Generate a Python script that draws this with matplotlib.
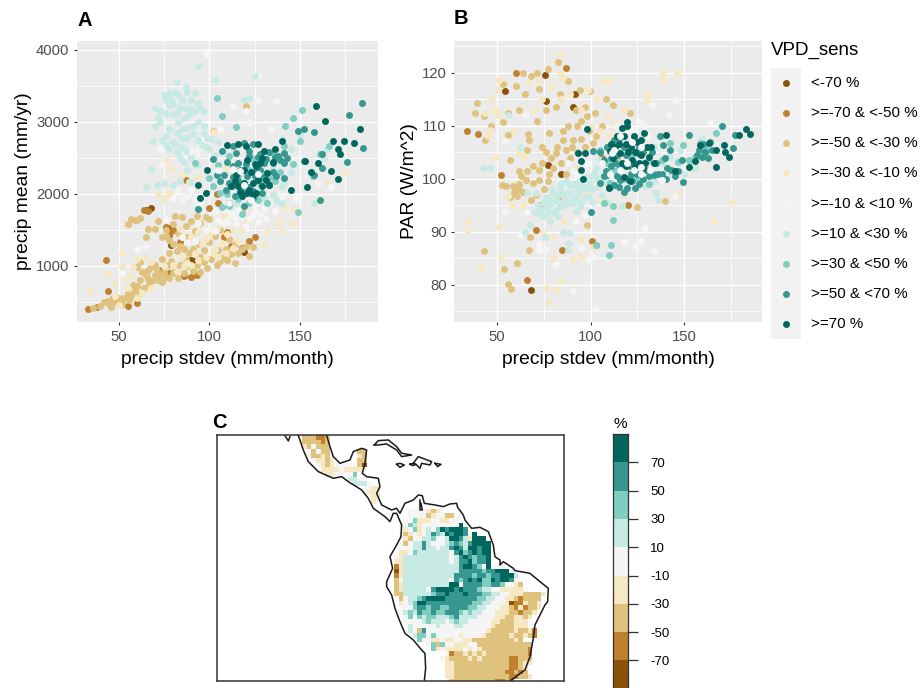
#!/usr/bin/env python3
"""Climate sensitivity panels: two scatters with a shared legend, plus the map."""

import matplotlib

matplotlib.use("Agg")
import matplotlib.pyplot as plt
from matplotlib.colors import BoundaryNorm, ListedColormap
import numpy as np

plt.rcParams["font.family"] = ["Liberation Sans", "DejaVu Sans"]

W, H = 921, 688

CLASS_COLORS = ["#8c510a", "#bf812d", "#dfc27d", "#f6e8c3", "#f5f5f5",
                "#c7eae5", "#80cdc1", "#35978f", "#01665e"]
LEGEND_LABELS = ["<-70 %", ">=-70 & <-50 %", ">=-50 & <-30 %", ">=-30 & <-10 %",
                 ">=-10 & <10 %", ">=10 & <30 %", ">=30 & <50 %", ">=50 & <70 %",
                 ">=70 %"]
CBAR_TICKS = [70, 50, 30, 10, -10, -30, -50, -70]
CBAR_EDGES = [-90, -70, -50, -30, -10, 10, 30, 50, 70, 90]

# panel A: (precip stdev, precip mean), one list per class
a_c1 = [(68, 1810), (65, 1780), (78, 1430), (77, 1530), (79, 1290), (90, 1090), (92, 1070), (119, 1200)]
a_c2 = [(33, 400), (38, 430), (44, 650), (55, 440), (60, 480), (43, 1090), (64, 1780), (66, 1770),
        (76, 1540), (80, 1500), (78, 1450), (84, 1330), (73, 950), (78, 900), (86, 860), (90, 850),
        (93, 870), (100, 1800), (105, 1880), (108, 1400), (112, 1280), (118, 1250), (122, 1350),
        (125, 1400), (87, 2200), (104, 2000), (110, 1470)]
a_c3 = [(36, 420), (40, 440), (42, 500), (44, 520), (45, 470), (46, 430), (48, 500), (50, 550),
        (53, 560), (55, 620), (57, 590), (59, 650), (60, 720), (62, 800), (63, 920), (65, 880),
        (64, 700), (67, 750), (69, 800), (70, 880), (72, 800), (74, 780), (76, 850), (78, 830),
        (80, 900), (83, 840), (86, 900), (88, 1000), (91, 930), (93, 1010), (95, 920), (97, 1060),
        (99, 970), (101, 1100), (104, 1010), (106, 1070), (108, 1130), (110, 1090), (112, 1160),
        (114, 1040), (116, 1180), (118, 1240), (120, 1280), (122, 1140), (124, 1270), (60, 1640),
        (55, 1580), (57, 1650), (59, 1640), (62, 1670), (66, 1510), (70, 1520), (76, 1420),
        (72, 1620), (78, 1360), (80, 1300), (82, 1210), (84, 1280), (86, 1230), (88, 1400),
        (92, 1480), (95, 1600), (98, 1680), (100, 1650), (90, 1620), (85, 1680), (80, 1580),
        (76, 1500), (78, 1180), (74, 1100), (70, 1020), (66, 950), (62, 1060), (60, 980),
        (65, 1400), (120, 3220), (102, 2870), (95, 1130), (105, 1220), (99, 2010), (120, 2020),
        (118, 1780), (124, 1920), (47, 560), (52, 470), (56, 530), (58, 730), (61, 610), (66, 820),
        (68, 980), (71, 940), (73, 880), (75, 920), (77, 1010), (79, 1070), (81, 960), (84, 1010),
        (87, 1090), (89, 1180), (91, 1240), (94, 1310), (97, 1220), (100, 1340), (103, 1410),
        (106, 1500), (109, 1230), (111, 1370), (114, 1300), (83, 1460), (87, 1560), (93, 1700),
        (81, 1700), (74, 1400)]
a_c4 = [(34, 650), (44, 890), (52, 1000), (52, 1180), (58, 990), (48, 580), (50, 460), (55, 700),
        (60, 560), (63, 630), (68, 700), (75, 1000), (80, 1010), (85, 1120), (88, 1040), (92, 1180),
        (96, 1300), (100, 1450), (103, 1230), (107, 1320), (110, 1450), (113, 1520), (118, 1500),
        (121, 1620), (126, 1650), (130, 1310), (132, 1480), (140, 1480), (138, 1600), (146, 1600),
        (146, 1785), (141, 1820), (78, 2010), (75, 1950), (72, 2000), (76, 2460), (79, 2350),
        (85, 2270), (89, 2170), (94, 2240), (102, 2860), (109, 2380), (166, 2156), (175, 2303),
        (48, 750), (53, 830), (57, 860), (60, 1100), (64, 1120), (68, 1060), (82, 930), (86, 1000),
        (90, 1020), (94, 1080), (98, 1130), (102, 1180), (105, 1130), (109, 1180), (113, 1250),
        (116, 1350), (104, 1520), (94, 1470), (98, 1370), (90, 1400), (84, 1520), (108, 1700)]
a_c5 = [(99, 3950), (127, 3640), (127, 3300), (137, 3290), (113, 3220), (120, 3150), (122, 3000),
        (134, 2900), (106, 2900), (73, 2620), (95, 2660), (93, 2570), (74, 2410), (80, 1950),
        (85, 1920), (90, 2050), (92, 1930), (95, 1880), (100, 1980), (103, 1760), (105, 1640),
        (108, 1600), (112, 1720), (115, 1580), (118, 1700), (122, 1650), (125, 1760), (128, 1720),
        (130, 1800), (133, 1880), (136, 1760), (125, 1850), (140, 1950), (145, 2080), (148, 1950),
        (94, 1600), (98, 1500), (103, 1480), (88, 1330), (76, 1650), (60, 1240), (52, 900),
        (65, 1280), (85, 1400), (92, 1350), (160, 2150), (167, 2100), (110, 1620), (114, 1660),
        (120, 1560), (124, 1690), (127, 1610), (131, 1670), (116, 1780), (109, 1780), (86, 2500),
        (90, 2600), (96, 2750), (83, 2050), (88, 1970)]
a_c6 = [(82, 3550), (87, 3480), (94, 3780), (103, 3580), (70, 3200), (73, 3000), (70, 2950),
        (72, 3050), (75, 3370), (78, 3400), (76, 3300), (80, 3250), (83, 3380), (85, 3300),
        (88, 3420), (90, 3300), (92, 3400), (94, 3270), (97, 3150), (80, 3100), (83, 3000),
        (86, 3050), (89, 3100), (92, 3150), (94, 3000), (97, 2950), (78, 2900), (76, 2800),
        (74, 2750), (69, 2740), (80, 2720), (82, 2850), (85, 2900), (88, 2920), (91, 2830),
        (94, 2750), (97, 2850), (99, 2780), (101, 2760), (105, 2720), (78, 2620), (81, 2700),
        (84, 2500), (87, 2600), (90, 2500), (93, 2400), (65, 2100), (68, 2350), (71, 2130),
        (75, 2150), (80, 2120), (84, 2180), (90, 2160), (125, 3640), (122, 3330), (119, 3300),
        (120, 2200), (128, 2100), (135, 2000), (140, 2100), (145, 2300), (135, 2350), (141, 2150),
        (150, 2820), (115, 1870), (125, 1950), (137, 1920), (140, 1880), (158, 1880), (163, 2500),
        (165, 2620), (140, 2760), (145, 2620), (100, 2620), (103, 2540), (88, 2340), (86, 2450),
        (77, 3350), (79, 3300), (81, 3420), (84, 3200), (87, 3200), (90, 3180), (95, 3200),
        (78, 3230), (73, 3150), (76, 3120), (82, 3130), (85, 2780), (88, 2780), (91, 2950),
        (96, 2680), (99, 2650), (76, 2680), (82, 2580), (85, 2650), (118, 1980), (130, 1950)]
a_c7 = [(104, 3330), (107, 3080), (115, 2930), (142, 2940), (146, 3050), (151, 3170), (149, 1750),
        (107, 1820), (111, 1830), (118, 1720), (132, 1870), (146, 2410), (150, 2730), (161, 2560),
        (166, 2660), (157, 2250), (122, 2340), (113, 2110), (106, 2010), (102, 2110), (100, 2220),
        (128, 2150), (131, 2290), (124, 2480), (135, 2570), (141, 2660), (120, 2060), (111, 2530),
        (92, 2430), (116, 2250), (126, 2230), (134, 2210), (110, 2000), (116, 1930), (127, 1920),
        (122, 1880), (136, 2180), (139, 2310), (105, 2400)]
a_c8 = [(184, 3265), (177, 3100), (185, 2640), (176, 2440), (158, 2860), (152, 2900), (149, 2870),
        (162, 2560), (158, 2270), (162, 2360), (161, 1910), (102, 2480), (107, 2595), (113, 2660),
        (119, 2710), (124, 2690), (127, 2510), (133, 2590), (141, 2570), (141, 2430), (138, 2530),
        (135, 2430), (141, 2220), (137, 2250), (106, 2180), (111, 2150), (116, 2180), (121, 2250),
        (117, 2340), (126, 2340), (130, 2430), (122, 2525), (113, 2390), (108, 2270), (124, 1950),
        (119, 1830), (94, 1790), (114, 1970), (119, 2015), (129, 2015), (133, 2130), (152, 2455),
        (109, 2050), (113, 2240), (118, 2110), (122, 2100), (125, 2250), (128, 2330), (131, 2490),
        (136, 2510), (139, 2470), (143, 2500), (116, 2430), (120, 2420), (104, 2270), (110, 2440),
        (115, 2570), (129, 2230), (135, 2300), (124, 2040), (128, 2560), (122, 2600)]
a_c9 = [(159, 3220), (164, 3010), (183, 2905), (168, 2730), (174, 2730), (180, 2710), (171, 2620),
        (172, 2550), (153, 2455), (160, 2430), (156, 2305), (167, 2320), (171, 2210), (154, 2095),
        (145, 2050), (140, 2730), (95, 1940), (98, 2015), (94, 2130), (99, 2330), (110, 2680),
        (116, 2700), (120, 2670), (127, 2690), (130, 2595), (136, 2620), (128, 2430), (135, 2450),
        (133, 2130), (126, 2385), (119, 2340), (115, 2270), (112, 2110), (119, 2155), (124, 2155),
        (129, 2110), (121, 2015), (126, 2015), (118, 1970), (111, 1880), (125, 2410), (132, 2295),
        (122, 2060), (116, 2110), (127, 2200), (121, 2470), (131, 2190), (117, 2030), (123, 2310),
        (129, 2500), (114, 2180), (124, 1990)]
# a few pale cells sit on top of the dark core
a_over = [(113, 2350), (117, 2320), (111, 1870), (123, 1920), (105, 2330), (119, 2120), (127, 2280)]

# panel B: (precip stdev, PAR), one list per class
b_c1 = [(68, 79), (90.5, 113.5), (91.5, 116), (84, 101), (77, 102.6), (76, 114.7), (75.6, 119.6), (54.5, 116.5)]
b_c2 = [(60, 120), (87, 121), (34, 109), (40, 108.5), (52, 100.8), (66, 81), (72.5, 95), (71, 90.4),
        (84.7, 86.5), (106, 104), (101, 88.2), (120, 95), (103, 87.5)]
b_c3 = [(43, 86.3), (53.6, 83), (55.6, 80.2), (57.6, 79.3), (60.7, 84.2), (67, 86.5), (67.6, 89.1),
        (60, 117.6), (53.4, 117.9), (64, 120), (71.6, 120), (77, 120.7), (82.5, 122), (68, 119.4),
        (72.5, 117), (65, 116), (56, 112.4), (61.6, 113), (39.5, 114.3), (38, 112.4), (43, 111.8),
        (56, 108.2), (66.7, 108.5), (53.4, 110.8), (71.6, 111), (76, 113), (81.6, 113.6), (88, 118.4),
        (83.4, 116), (94.3, 116.8), (99.7, 116.5), (97, 113.6), (102.5, 112.4), (108, 115), (112, 114),
        (121, 112.4), (98, 111.8), (88, 110), (92.5, 110), (78, 108.6), (85, 107.4), (90.6, 107.4),
        (97, 106), (101.5, 106.7), (76, 105), (81.6, 104.8), (87, 105.5), (74.3, 103), (80, 102),
        (72.5, 101.7), (61.6, 101.4), (57, 103.6), (66, 105.5), (52.5, 98.9), (55, 98.6), (58.6, 98.6),
        (61.6, 98), (65.3, 99.8), (69, 99.2), (60.7, 96.7), (68, 96), (72.5, 99.8), (77, 99.5),
        (98, 91.3), (125, 94.7), (140, 95.8), (109, 106), (114, 104), (83.4, 96.7), (67, 107.4),
        (47, 110), (43.5, 107.4), (87, 101), (62, 99), (64, 97.5), (57, 96.5), (59, 97.5), (63, 100.5),
        (66, 101.5), (69, 102.5), (74, 106), (79, 104), (84, 103), (89, 104), (93, 105), (95, 107.5),
        (99, 109), (103, 108), (106, 110), (92, 113), (95, 111), (90, 106), (85, 109), (82, 106),
        (78, 101), (75, 98), (71, 97)]
b_c4 = [(34.7, 92), (34.7, 90.3), (41.3, 83.3), (52, 85.3), (51, 91), (76.5, 79.4), (81.6, 79), (84, 80.8),
        (78, 76.8), (90.6, 84.7), (95, 85.5), (95, 88.6), (101, 87.2), (139, 120), (139, 118.7),
        (146.4, 120), (130.6, 116), (130, 114.6), (146, 97.4), (175.6, 95.7), (166, 92), (51, 118.7),
        (50, 116.8), (47, 115), (43.5, 112.4), (46.5, 109.3), (50.7, 112), (67, 118), (72.5, 118.7),
        (79, 117.4), (83.4, 120), (83.5, 123.6), (89, 116), (107, 118.5), (109.7, 118.5), (98.8, 116.8),
        (103.4, 115), (109, 111.8), (112.4, 110.5), (118, 113), (49.5, 104.2), (64.3, 104.2), (56, 96.7),
        (58, 95), (64, 94.8), (78, 92.3), (74.4, 89.7), (80, 89), (86, 92), (95, 96.7), (98.8, 97.3),
        (105, 96), (110.6, 95), (109, 99), (118, 97.3), (80, 85), (62, 105), (59, 109), (45, 108),
        (49, 113), (74, 115), (70, 113), (85, 119), (84, 115), (95, 113), (100, 110), (105, 109),
        (110, 108), (116, 110), (92, 102), (88, 99), (122, 105), (118, 103)]
b_c5 = [(103, 75.4), (90.6, 78.8), (101.5, 85.3), (99, 84.7), (81.6, 84), (72.5, 86.6), (76, 86.6),
        (89, 89.8), (95, 87), (118, 88), (124, 87.4), (127, 88.2), (134, 86.3), (129, 90.7), (145, 114.6),
        (142, 112), (133, 114), (164, 110.6), (65, 112), (54, 107.2), (54, 94), (62.5, 89.4), (66, 93.8),
        (72.5, 87.8), (97, 93.2), (92, 92), (96, 101.7), (90.6, 101.4), (100, 101), (118, 108.6),
        (122, 109.2), (129, 110), (126, 111), (145, 96.7), (120, 110.5), (124, 109), (130, 108),
        (114, 110), (93, 100.5), (88, 103), (98, 103)]
b_c6 = [(42.7, 102), (46.5, 102), (55.6, 112), (62.5, 106), (65, 90), (67.5, 91.3), (75.6, 89), (85, 90),
        (89, 89.7), (88.5, 87.9), (88, 86.5), (66, 97.3), (70.7, 97.3), (69.8, 93.8), (73.4, 94.2), (76, 94.8),
        (79, 95.4), (81.6, 96), (78, 93.5), (75.2, 92.9), (81.6, 94.2), (84.3, 94.8), (87, 96), (85, 97),
        (89.7, 97.3), (92.5, 98.2), (88.8, 98.9), (83.4, 98), (80, 97.3), (96, 98.5), (99.7, 99.2), (103.4, 100),
        (97, 100.4), (90.6, 95.4), (94.3, 94.8), (101.5, 95.7), (106, 97), (109, 95.7), (117, 94.8), (135, 97.3),
        (136, 96), (112.4, 98.6), (129, 98.6), (134, 99.5), (148, 105.5), (142.4, 104.2), (134, 106),
        (159.6, 107.7), (156, 102), (143, 101), (103, 102), (78, 96), (82, 97), (75, 95.5), (72, 93.5),
        (91, 96.5), (94, 97.5), (86, 95), (77, 94), (74, 93), (80, 93.5), (83, 95.5), (88, 97.5), (91, 99),
        (94, 99.5), (98, 98), (101, 98), (104, 98.5), (76, 96.5), (72, 95), (79, 98), (84, 99), (87, 99.5),
        (93, 96), (97, 96.5), (100, 100.5), (106, 100.5), (125, 100), (138, 103), (150, 101), (105, 103.5),
        (102, 101), (108, 99.5), (89, 95.5), (82.5, 93), (78.5, 92), (92, 94), (95, 95.5), (99, 96.5)]
b_c7 = [(103, 87.5), (111, 87.5), (110, 85.7), (112, 92.3), (107, 95.4), (112, 94.8), (105, 105.5), (109, 103),
        (112.4, 103.6), (121.5, 104.2), (130.6, 103.6), (134, 101), (138, 103.6), (142.4, 106.7), (147, 103.2),
        (149.6, 106.4), (152.4, 103.6), (156, 104.2), (160.5, 106), (167, 108.6), (162, 105.5), (158.7, 106.7),
        (110.6, 99.2), (115, 102), (118, 100), (126, 100), (131, 99), (113, 101.5), (123, 100.5), (128, 103)]
b_c8 = [(100.3, 93.7), (149.6, 99.4), (152.4, 108.3), (137, 108.1), (138.7, 106.3), (142.4, 105.5), (143, 101.7),
        (138, 101), (134, 100.8), (140.6, 100), (147, 101.4), (148.7, 103.6), (159.6, 104.2), (161.4, 105),
        (157, 104.5), (176, 105.8), (177, 108.3), (170.5, 110), (105, 99.2), (109, 100.8), (112.4, 98.9),
        (116, 99.8), (119.6, 98.2), (124, 98.2), (128, 100), (109, 106), (112.4, 107.4), (101.5, 105.2),
        (105, 105), (116, 102.3), (121.5, 101), (125, 104.8), (129.7, 101.7), (107, 103.6), (114, 100.5),
        (118, 97.5), (122, 99.5), (126, 99), (110, 98.5), (113, 103), (118, 106), (123, 103), (128, 105),
        (164, 107), (160, 106.5), (135, 103), (107, 100.5), (111, 102.5), (115, 98.5), (120, 100), (125, 101),
        (131, 100.5), (136, 101), (141, 102), (145, 100.5), (119, 104.5), (115, 107.5), (111, 104), (108, 101.5),
        (114, 104.5), (121, 102.5), (126, 106), (133, 105), (140, 104), (165, 105.5), (158, 105.5), (163, 104)]
b_c9 = [(183, 109.4), (185.4, 108.4), (179.6, 108.3), (171.4, 106.4), (174, 104.2), (172, 105), (167, 105.5),
        (167.3, 102.2), (155.6, 103.4), (152.4, 102.3), (158.7, 106.4), (163.3, 106.7), (140.6, 108.3),
        (98, 109.4), (93.4, 104.8), (97, 104.8), (95, 103.3), (95, 101.7), (96, 100), (117, 109.6),
        (119.7, 110), (119.7, 110.8), (115, 106.6), (110.6, 105.2), (116, 104.8), (122.4, 103.6), (121.5, 106),
        (128.8, 108.6), (127, 107.4), (132.4, 106), (131.5, 104.2), (134, 103), (126, 103), (109.7, 98.2),
        (118, 100.4), (145, 101.4), (113, 106), (118, 108), (124, 105), (129, 103), (123, 108), (127, 104.5),
        (119, 102.5), (112, 104), (120, 105), (125, 107), (130, 106), (117, 103), (114, 108), (121, 99.5),
        (128, 102), (124, 102.5), (119, 106.5), (111, 106.5)]
b_over = [(106, 103), (110.6, 101), (116, 101.7), (123, 101.7), (127, 102.3), (119.7, 103), (111.5, 104.8),
          (132, 101.7), (138, 99.8), (127, 106), (127, 101), (112.4, 105.5), (122, 107), (116, 108)]

# map cells, digit = class number, '.' = no data; rows run north to south
meso_grid = [
    "...333223",
    "...333323",
    "...435333",
    "....53533......33",
    "....533435.....43",
    ".....54434.....33",
    "......54345555531",
    ".......4444544445",
    "........4455557",
    "............56655",
    ".............56665",
    "................5544",
    "................5444",
    "..................44",
    "..................45",
]
south_grid = [
    "",
    "",
    "",
    ".....55554345",
    ".....555534553355",
    "....557444554455",
    "...55764555555559",
    "....45745657989998",
    "...53454568769899859",
    "...5435566755699864999",
    "...53566865556787689999",
    "...55566866566898699899",
    "...44576666666589789899",
    "..546666666666568987889",
    "..446666666666568897889",
    "..246666666666668998759555",
    "..1466666666666688888788999",
    "..24666666666668888788788 9996".replace(" ", ""),
    "..356666666666587898977989985",
    "..3466666666669958888778875543",
    "..34666665899998988876655444445",
    "..336666667889888988877665544433334",
    "...3566789999888888877665544323333",
    "...4567998888888888776655541224334",
    "...5557887887788887766555443242334",
    "...567687787788876766555444332334",
    "....575767766678666655554433443 4".replace(" ", ""),
    "....5555676665676655555443334 44".replace(" ", ""),
    ".....655555655566555555433334 44".replace(" ", ""),
    ".....653855555555555554333334334 2".replace(" ", ""),
    "......677575555545555433333433432",
    ".......755445 445544333333333 43".replace(" ", ""),
    ".........5737554445533333333333 3".replace(" ", ""),
    "..........745444454543333333333 2".replace(" ", ""),
    ".............5233434343333333332",
    "............5433334343333332233 3".replace(" ", ""),
    ".............4433333333333322 344".replace(" ", ""),
    ".............44333333333333 2234".replace(" ", ""),
    ".............44333333333332 2323".replace(" ", ""),
    ".............4433333333333 322334".replace(" ", ""),
    "..............3333333333 22 32".replace(" ", ""),
]

# coastlines, in map units
coast_pacific_x = [295, 310, 325, 355, 400, 425, 445, 485, 505, 520, 555, 570, 580, 590, 605, 603, 590, 570, 578, 560,
                   560, 575, 585, 600, 615, 640, 665, 675, 677, 673]
coast_pacific_y = [91, 135, 170, 200, 220, 215, 230, 255, 280, 310, 335, 350, 325, 325, 360, 395, 420, 455, 490, 530,
                   545, 570, 610, 650, 685, 705, 735, 745, 790, 828]
coast_atlantic_x = [380, 390, 400, 420, 450, 460, 485, 500, 495, 487, 500, 535, 540, 530, 545, 575, 590, 600, 615, 640,
                    655, 667, 673, 705, 730, 750, 770, 773, 790, 795, 815, 840, 865, 880, 885, 900, 900, 910, 940, 945,
                    990, 1020, 1045, 1043, 1035, 1005, 1000, 990, 975, 930]
coast_atlantic_y = [91, 125, 155, 175, 165, 140, 130, 135, 175, 205, 215, 220, 245, 265, 300, 315, 310, 325, 295, 285,
                    270, 272, 295, 300, 305, 297, 295, 307, 330, 345, 370, 367, 380, 420, 455, 465, 480, 470, 490, 497,
                    505, 530, 550, 590, 600, 660, 700, 755, 795, 828]
maracaibo_x = [660, 660, 667, 663]
maracaibo_y = [285, 315, 315, 295]
cuba_x = [523, 535, 565, 590, 605, 635, 605, 590, 560, 535, 523]
cuba_y = [120, 107, 105, 125, 145, 150, 155, 135, 117, 120, 120]
hispaniola_x = [640, 655, 695, 690, 665, 660, 650, 640]
hispaniola_y = [175, 155, 170, 180, 175, 190, 180, 175]
jamaica_x = [590, 600, 613, 600, 590]
jamaica_y = [178, 175, 180, 187, 178]
cayman_x = [630, 640, 648, 638, 630]
cayman_y = [178, 175, 178, 182, 178]
puerto_rico_x = [705, 723, 713, 705]
puerto_rico_y = [175, 178, 185, 175]
baja_x = [255, 265, 270]
baja_y = [92, 108, 95]


def px_axes(left, top, right, bottom, **kw):
    return fig.add_axes([left / W, 1 - bottom / H, (right - left) / W, (bottom - top) / H], **kw)


def gg_panel(ax, classes, over, xlim, ylim, xticks, xminor, yticks, yminor, xlabel, ylabel):
    ax.set_facecolor("#EBEBEB")
    for s in ax.spines.values():
        s.set_visible(False)
    ax.set_axisbelow(True)
    ax.set_xticks(xticks)
    ax.set_yticks(yticks)
    ax.set_xticks(xminor, minor=True)
    ax.set_yticks(yminor, minor=True)
    ax.grid(True, which="major", color="white", linewidth=1.0)
    ax.grid(True, which="minor", color="white", linewidth=0.55)
    ax.tick_params(which="minor", length=0)
    ax.tick_params(which="major", length=2.5, width=0.8, color="#333333",
                   labelcolor="#4D4D4D", labelsize=10.7, pad=3)
    for i in range(9):
        pts = np.array(classes[i])
        ax.scatter(pts[:, 0], pts[:, 1], s=25, color=CLASS_COLORS[i], linewidths=0, zorder=3)
    pts = np.array(over)
    ax.scatter(pts[:, 0], pts[:, 1], s=25, color=CLASS_COLORS[4], linewidths=0, zorder=3)
    ax.set_xlim(*xlim)
    ax.set_ylim(*ylim)
    ax.set_xlabel(xlabel, fontsize=13.9, labelpad=5, color="black")
    ax.set_ylabel(ylabel, fontsize=13.9, labelpad=3, color="black")


fig = plt.figure(figsize=(W / 100, H / 100), dpi=100)

ax_a = px_axes(77, 41, 378, 322)
gg_panel(ax_a, [a_c1, a_c2, a_c3, a_c4, a_c5, a_c6, a_c7, a_c8, a_c9], a_over,
         (27.1, 193), (222, 4125), [50, 100, 150], [75, 125, 175],
         [1000, 2000, 3000, 4000], [500, 1500, 2500, 3500],
         "precip stdev (mm/month)", "precip mean (mm/yr)")

ax_b = px_axes(454.4, 41, 761.5, 322)
gg_panel(ax_b, [b_c1, b_c2, b_c3, b_c4, b_c5, b_c6, b_c7, b_c8, b_c9], b_over,
         (27.2, 191.4), (73, 126), [50, 100, 150], [75, 125, 175],
         [80, 90, 100, 110, 120], [75, 85, 95, 105, 115, 125],
         "precip stdev (mm/month)", "PAR (W/m^2)")

fig.text(77 / W, 1 - 20 / H, "A", fontsize=14.5, fontweight="bold", va="center")
fig.text(454 / W, 1 - 19 / H, "B", fontsize=14.5, fontweight="bold", va="center")
fig.text(212 / W, 1 - 423 / H, "C", fontsize=14.5, fontweight="bold", va="center")

# legend of the scatter panels
fig.text(771 / W, 1 - 50 / H, "VPD_sens", fontsize=13.5, va="center")
ax_leg = px_axes(771, 68, 801, 339)
ax_leg.set_facecolor("#F2F2F2")
ax_leg.set_xticks([])
ax_leg.set_yticks([])
for s in ax_leg.spines.values():
    s.set_visible(False)
ax_leg.set_xlim(0, 1)
ax_leg.set_ylim(9, 0)
for i, (lab, col) in enumerate(zip(LEGEND_LABELS, CLASS_COLORS)):
    ax_leg.scatter([0.5], [i + 0.5], s=25, color=col, linewidths=0)
    fig.text(811 / W, 1 - (68 + (i + 0.5) * 271 / 9) / H, lab, fontsize=10.9, va="center", color="black")

# map panel
cmap = ListedColormap(CLASS_COLORS)
norm = BoundaryNorm(np.arange(0.5, 10.5), cmap.N)
ax_map = px_axes(217.3, 435.3, 564.3, 681)
ax_map.set_xticks([])
ax_map.set_yticks([])
for s in ax_map.spines.values():
    s.set_linewidth(1.1)
    s.set_color("#333333")


def draw_cells(rows, x0, y0, cell=13.8):
    ncol = max(len(r) for r in rows)
    arr = np.full((len(rows), ncol), np.nan)
    for j, row in enumerate(rows):
        for i, ch in enumerate(row):
            if ch.isdigit():
                arr[j, i] = int(ch)
    xe = x0 + cell * np.arange(ncol + 1)
    ye = y0 + cell * np.arange(len(rows) + 1)
    ax_map.pcolormesh(xe, ye, np.ma.masked_invalid(arr), cmap=cmap, norm=norm)


draw_cells(meso_grid, 265.2, 90.6)
draw_cells(south_grid, 555, 270)
ax_map.set_xlim(52, 1093)
ax_map.set_ylim(828, 91)

for xs, ys in [(coast_pacific_x, coast_pacific_y), (coast_atlantic_x, coast_atlantic_y),
               (maracaibo_x, maracaibo_y), (cuba_x, cuba_y), (hispaniola_x, hispaniola_y),
               (jamaica_x, jamaica_y), (cayman_x, cayman_y), (puerto_rico_x, puerto_rico_y),
               (baja_x, baja_y)]:
    ax_map.plot(xs, ys, color="#1a1a1a", linewidth=1.1, solid_joinstyle="round")

# colour bar of the map
ax_cb = px_axes(613, 434, 628, 688.7)
edges = np.array(CBAR_EDGES)
ax_cb.pcolormesh([0, 1], edges, np.arange(1, 10).reshape(-1, 1), cmap=cmap, norm=norm)
ax_cb.set_xticks([])
ax_cb.yaxis.tick_right()
ax_cb.set_yticks(CBAR_TICKS)
ax_cb.set_yticklabels([str(t) for t in CBAR_TICKS], fontsize=9.5, ha="left")
ax_cb.tick_params(axis="y", length=7.5, width=0.9, color="#333333", pad=8.5)
for s in ax_cb.spines.values():
    s.set_linewidth(0.9)
    s.set_color("#333333")
fig.text(620.5 / W, 1 - 424 / H, "%", fontsize=11, ha="center", va="center")

fig.savefig("out.png", dpi=100)
